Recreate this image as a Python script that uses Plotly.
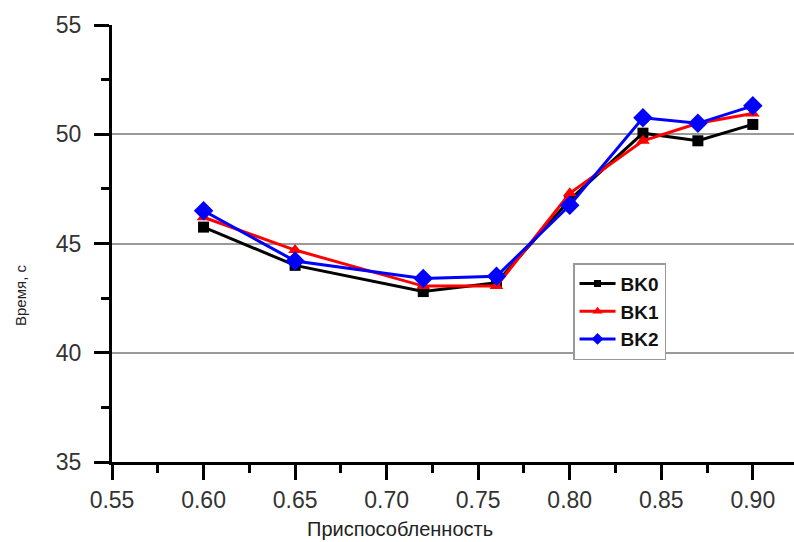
import plotly.graph_objects as go

x_vals = [0.60, 0.65, 0.72, 0.76, 0.80, 0.84, 0.87, 0.90]
bk0 = [45.75, 44.0, 42.8, 43.2, 47.0, 50.05, 49.7, 50.45]
bk1 = [46.2, 44.7, 43.05, 43.05, 47.3, 49.7, 50.5, 50.95]
bk2 = [46.5, 44.2, 43.4, 43.5, 46.75, 50.75, 50.5, 51.3]
names = ["BK0", "BK1", "BK2"]
colors = ["#000000", "#ff0000", "#0000ff"]
symbols = ["square", "triangle-up", "diamond"]
sizes = [11, 12, 15]
legend_sizes = [7, 9, 9]
x_ticks = [0.55, 0.60, 0.65, 0.70, 0.75, 0.80, 0.85, 0.90]
y_ticks = [35, 40, 45, 50, 55]

fig = go.Figure()
for name, ys, c, s, sz in zip(names, [bk0, bk1, bk2], colors, symbols, sizes):
    fig.add_trace(go.Scatter(
        x=x_vals, y=ys, name=name, mode="lines+markers", showlegend=False,
        legendgroup=name,
        line=dict(color=c, width=3),
        marker=dict(symbol=s, size=sz, color=c),
    ))
# legend entries with the smaller markers shown in the reference legend
for name, c, s, lsz in zip(names, colors, symbols, legend_sizes):
    fig.add_trace(go.Scatter(
        x=[None], y=[None], name=name, mode="lines+markers", legendgroup=name,
        line=dict(color=c, width=3),
        marker=dict(symbol=s, size=lsz, color=c),
    ))

axis_font = dict(family="Liberation Sans, Arial, sans-serif", size=23, color="#333333")
fig.update_layout(
    width=794, height=542,
    margin=dict(l=112, r=0, t=25, b=80),
    paper_bgcolor="white", plot_bgcolor="white",
    showlegend=True,
    legend=dict(
        x=0.676, y=0.455, xanchor="left", yanchor="top",
        bordercolor="#999999", borderwidth=1.5, bgcolor="white",
        font=dict(family="Liberation Sans, Arial, sans-serif", size=19, color="#111111", weight="bold"),
        tracegroupgap=0, itemwidth=36,
    ),
    xaxis=dict(
        tickmode="linear", tick0=x_ticks[0], dtick=0.05, tickformat=".2f",
        range=[0.55, 0.9225],
        ticks="outside", ticklen=15, tickwidth=3, tickcolor="black",
        showline=True, linecolor="black", linewidth=3,
        showgrid=False, zeroline=False, tickfont=axis_font,
        minor=dict(dtick=0.025, ticks="outside", ticklen=8, tickwidth=3, tickcolor="black", showgrid=False),
    ),
    yaxis=dict(
        tickmode="linear", tick0=y_ticks[0], dtick=5,
        range=[35, 55],
        ticks="outside", ticklen=15, tickwidth=3, tickcolor="black",
        showline=True, linecolor="black", linewidth=3,
        showgrid=True, gridcolor="#9a9a9a", gridwidth=1.5,
        zeroline=False, tickfont=axis_font, ticklabelstandoff=8,
        minor=dict(dtick=2.5, ticks="outside", ticklen=8, tickwidth=3, tickcolor="black", showgrid=False),
    ),
    annotations=[
        dict(text="Приспособленность", xref="paper", yref="paper", x=0.422, y=-0.153,
             xanchor="center", yanchor="middle", showarrow=False,
             font=dict(family="Liberation Sans, Arial, sans-serif", size=20, color="#222222")),
        dict(text="Время, с", xref="paper", yref="paper", x=-0.135, y=0.382,
             xanchor="center", yanchor="middle", showarrow=False, textangle=-90,
             font=dict(family="Liberation Sans, Arial, sans-serif", size=15, color="#222222")),
    ],
)

fig.write_html("out.html", config={"displayModeBar": False},
               post_script="document.body.style.margin='0';document.body.style.overflow='hidden';")
